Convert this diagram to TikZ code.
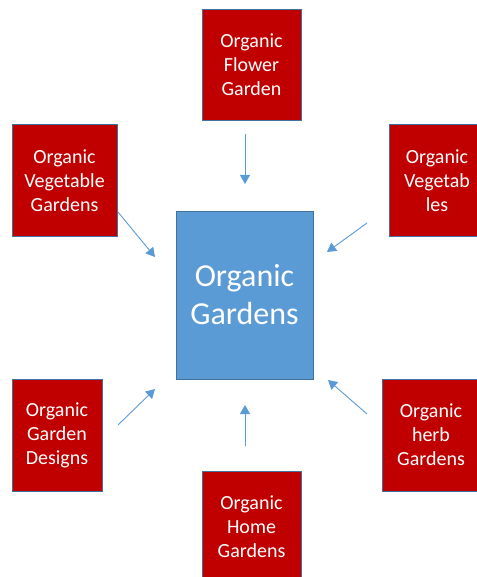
\documentclass[tikz,border=0pt]{standalone}
\usepackage{fontspec}
\setmainfont{Carlito}
\usepackage{xcolor}
\usetikzlibrary{arrows.meta, positioning}

\definecolor{gardenred}{HTML}{C00000}
\definecolor{gardenblue}{HTML}{5B9BD5}
\definecolor{gardenedge}{HTML}{41719C}

\begin{document}
\begin{tikzpicture}[x=1pt, y=-1pt, >={Triangle[width=10pt,length=9pt]},
    leaf/.style={draw=gardenedge, line width=1pt, fill=gardenred, text=white,
        align=center, inner sep=0pt, font=\fontsize{20}{24}\selectfont},
    hub/.style={draw=gardenedge, line width=1pt, fill=gardenblue, text=white,
        align=center, inner sep=0pt, minimum width=137pt, minimum height=168pt,
        font=\fontsize{32}{38}\selectfont},
    feed/.style={->, line width=0.9pt, color=gardenblue}]
        \useasboundingbox (0,0) rectangle (476,577);

        % Centre box
        \node[hub] (hub) at (244.5,295) {Organic\\Gardens};

        % Outer boxes
        \node[leaf, minimum width=99pt, minimum height=111pt] (flower) at (251.5,65) {Organic\\Flower\\Garden};
        \node[leaf, minimum width=105pt, minimum height=111pt] (vegleft) at (64.5,180.5) {Organic\\Vegetable\\Gardens};
        \node[leaf, minimum width=96pt, minimum height=111pt] (vegright) at (437,180.5) {Organic\\Vegetab\\les};
        \node[leaf, minimum width=90pt, minimum height=112pt] (designs) at (57,435) {Organic\\Garden\\Designs};
        \node[leaf, minimum width=98pt, minimum height=112pt] (herb) at (431,435) {Organic\\herb\\Gardens};
        \node[leaf, minimum width=99pt, minimum height=111pt] (home) at (251.5,527) {Organic\\Home\\Gardens};

        % Arrow ends
        \coordinate (flower-a) at (245,134);
        \coordinate (flower-b) at (245,184);
        \coordinate (vegleft-a) at (118,212);
        \coordinate (vegleft-b) at (155,257);
        \coordinate (vegright-a) at (367,223);
        \coordinate (vegright-b) at (327,252);
        \coordinate (designs-a) at (118,425);
        \coordinate (designs-b) at (155,389);
        \coordinate (herb-a) at (367,414);
        \coordinate (herb-b) at (328,380);
        \coordinate (home-a) at (245,446);
        \coordinate (home-b) at (245,405);

        % Arrows into the centre
        \foreach \n in {flower, vegleft, vegright, designs, herb, home}
            \draw[feed] (\n-a) -- (\n-b);
    \end{tikzpicture}
\end{document}
